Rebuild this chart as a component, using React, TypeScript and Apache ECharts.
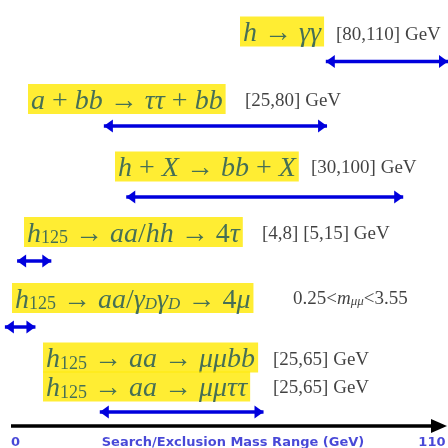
import React, { useEffect, useRef } from "react";
import * as echarts from "echarts";

// ---- data ----
const processLabels = [
  "{v|h} {n|→} {v|γγ}",
  "{v|a} {n|+} {v|bb} {n|→} {v|ττ} {n|+} {v|bb}",
  "{v|h} {n|+} {v|X} {n|→} {v|bb} {n|+} {v|X}",
  "{v|h}{s|125} {n|→} {v|aa}{n|/}{v|hh} {n|→} {n|4}{v|τ}",
  "{v|h}{s|125} {n|→} {v|aa}{n|/}{v|γ}{si|D}{v|γ}{si|D} {n|→} {n|4}{v|μ}",
  "{v|h}{s|125} {n|→} {v|aa} {n|→} {v|μμbb}",
  "{v|h}{s|125} {n|→} {v|aa} {n|→} {v|μμττ}",
];
const rangeLabels = [
  "[80,110] GeV",
  "[25,80] GeV",
  "[30,100] GeV",
  "[4,8] [5,15] GeV",
  "{t|0.25<}{ti|m}{ts|μμ}{t|<3.55}",
  "[25,65] GeV",
  "[25,65] GeV",
];
// arrow extents (GeV) as drawn
const arrowStart = [80, 25.5, 31, 4.2, 1.2, 24.5];
const arrowEnd = [110, 80.3, 99, 12.6, 8.7, 64.7];
// vertical row level of each arrow (chart units, top = 0)
const arrowRow = [61.5, 126, 197, 261, 327, 412];
const axisTickLabels = ["0", "110"];
const axisTitle = "Search/Exclusion Mass Range (GeV)";

// ---- layout (pixels) ----
const labelLeft = [240, 28, 115, 24, 12, 43, 43];
const labelMidY = [31.5, 99, 166.5, 232, 298, 357.5, 386.5];
const rangeLeft = [336, 245, 311, 262, 293, 273, 273];
const rangeMidY = [33, 99, 166, 232, 297, 358, 386];
const AXIS_Y = 426;
const AXIS_TEXT_Y = 441;

const TEAL = "#18505e";
const YELLOW = "#ffe900";
const BLUE = "#0000dd";
const AXBLUE = "#1a1acd";
const SERIF = "Liberation Serif";
const SANS = "DejaVu Sans";
const F = 28;
const RFS = 19;

const mathRich: any = {
  v: { fontFamily: SERIF, fontStyle: "italic", fontSize: F, color: TEAL, lineHeight: 26 },
  n: { fontFamily: SERIF, fontSize: F, color: TEAL, lineHeight: 26 },
  s: { fontFamily: SERIF, fontSize: 18, color: TEAL, lineHeight: 14, verticalAlign: "bottom" },
  si: { fontFamily: SERIF, fontStyle: "italic", fontSize: 17, color: TEAL, lineHeight: 14, verticalAlign: "bottom" },
};
const rangeRich: any = {
  t: { fontFamily: SERIF, fontSize: RFS, color: "#111", lineHeight: 20 },
  ti: { fontFamily: SERIF, fontStyle: "italic", fontSize: RFS, color: "#111", lineHeight: 20 },
  ts: { fontFamily: SERIF, fontStyle: "italic", fontSize: 13, color: "#111", lineHeight: 12, verticalAlign: "bottom" },
};

export default function App() {
  const ref = useRef<HTMLDivElement>(null);
  useEffect(() => {
    if (!ref.current) return;
    const chart = echarts.init(ref.current, null, { renderer: "svg" });

    const labelSeries = (texts: string[], xs: number[], ys: number[], rich: any, boxed: boolean) => ({
      type: "scatter",
      xAxisIndex: 0,
      yAxisIndex: 0,
      symbolSize: 5,
      itemStyle: { color: "#ffffff" },
      data: texts.map((t, i) => ({ value: [xs[i] - 2.5, ys[i]], label: { formatter: t } })),
      label: {
        show: true,
        position: "right",
        distance: 0,
        fontFamily: SERIF,
        fontSize: boxed ? F : RFS,
        color: boxed ? TEAL : "#111",
        rich,
        backgroundColor: boxed ? YELLOW : "transparent",
        padding: boxed ? [1, 3, 1, 3] : 0,
      },
    });

    const arrowSeries = arrowStart.map((s, i) => ({
      type: "line",
      xAxisIndex: 1,
      yAxisIndex: 0,
      silent: true,
      symbolSize: [13, 9],
      itemStyle: { color: BLUE },
      lineStyle: { color: BLUE, width: 3.5 },
      data: [
        { value: [s, arrowRow[i]], symbol: "triangle", symbolRotate: 90, symbolOffset: [4.5, 0] },
        { value: [arrowEnd[i], arrowRow[i]], symbol: "triangle", symbolRotate: -90, symbolOffset: [-4.5, 0] },
      ],
    }));

    const axisTextStyle = {
      fontFamily: SANS,
      fontWeight: "bold",
      fontSize: 13,
      color: AXBLUE,
    };

    chart.setOption({
      animation: false,
      grid: [{ left: 0, right: 0, top: 0, bottom: 0, outerBoundsMode: "none" }],
      xAxis: [
        { type: "value", min: 0, max: 448, show: false },
        { type: "value", min: 0, max: 110, show: false },
      ],
      yAxis: [{ type: "value", min: 0, max: 448, inverse: true, show: false }],
      series: [
        ...arrowSeries,
        {
          type: "line",
          xAxisIndex: 0,
          yAxisIndex: 0,
          silent: true,
          itemStyle: { color: "#000" },
          lineStyle: { color: "#000", width: 3.5 },
          data: [
            { value: [11, AXIS_Y], symbol: "none" },
            { value: [439, AXIS_Y], symbol: "triangle", symbolRotate: -90, symbolSize: [14, 16] },
          ],
        },
        {
          type: "scatter",
          xAxisIndex: 0,
          yAxisIndex: 0,
          symbolSize: 5,
          itemStyle: { color: "#ffffff" },
          data: [
            { value: [8.5, AXIS_TEXT_Y], label: { formatter: axisTickLabels[0], position: "right", distance: 0 } },
            { value: [233, AXIS_TEXT_Y], label: { formatter: axisTitle, position: "inside" } },
            { value: [448, AXIS_TEXT_Y], label: { formatter: axisTickLabels[1], position: "left", distance: 0 } },
          ],
          label: { show: true, ...axisTextStyle },
        },
        labelSeries(processLabels, labelLeft, labelMidY, mathRich, true),
        labelSeries(rangeLabels, rangeLeft, rangeMidY, rangeRich, false),
      ],
    });
    return () => chart.dispose();
  }, []);
  return <div ref={ref} style={{ position: "fixed", left: 0, top: 0, width: 448, height: 448 }} />;
}
